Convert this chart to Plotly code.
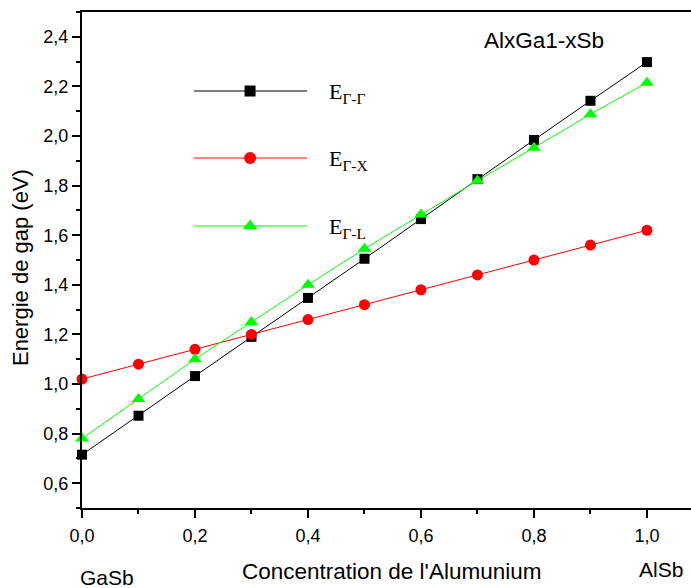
import plotly.graph_objects as go

# ---- data ----
x_al = [0.0, 0.1, 0.2, 0.3, 0.4, 0.5, 0.6, 0.7, 0.8, 0.9, 1.0]
e_gamma_gamma = [0.715, 0.872, 1.032, 1.190, 1.347, 1.505, 1.665, 1.826, 1.984, 2.142, 2.298]
e_gamma_x = [1.02, 1.08, 1.14, 1.20, 1.26, 1.32, 1.38, 1.44, 1.50, 1.56, 1.62]
e_gamma_l = [0.78, 0.94, 1.10, 1.25, 1.40, 1.545, 1.683, 1.82, 1.953, 2.088, 2.215]

series_names = ["E<sub>Γ-Γ</sub>", "E<sub>Γ-X</sub>", "E<sub>Γ-L</sub>"]
series_values = [e_gamma_gamma, e_gamma_x, e_gamma_l]
series_colors = ["#000000", "#FF0000", "#00FF00"]
series_symbols = ["square", "circle", "triangle-up"]
series_msize = [10, 11, 12]

x_title = "Concentration de l'Alumunium"
y_title = "Energie de gap (eV)"
alloy_label = "AlxGa1-xSb"
left_label = "GaSb"
right_label = "AlSb"

FONT = "Liberation Sans, Arial, sans-serif"

fig = go.Figure()
for name, vals, col, sym, ms in zip(series_names, series_values, series_colors, series_symbols, series_msize):
    fig.add_trace(go.Scatter(
        x=x_al, y=vals, mode="lines+markers", name=name,
        line=dict(color=col, width=1),
        marker=dict(symbol=sym, size=ms, color=col),
        cliponaxis=False, showlegend=False,
    ))

# ---- hand-drawn legend on an overlay axis (fractions of the plot area) ----
leg_x = [0.184, 0.3695]
leg_xm = 0.276
leg_y = [0.8407, 0.7056, 0.5685]
for name, col, sym, ms, yy in zip(series_names, series_colors, series_symbols, series_msize, leg_y):
    fig.add_trace(go.Scatter(
        x=leg_x, y=[yy, yy], mode="lines", xaxis="x2", yaxis="y2",
        line=dict(color=col, width=1),
        showlegend=False, hoverinfo="skip", cliponaxis=False,
    ))
    fig.add_trace(go.Scatter(
        x=[leg_xm], y=[yy], mode="markers", xaxis="x2", yaxis="y2",
        marker=dict(symbol=sym, size=ms + 1, color=col),
        showlegend=False, hoverinfo="skip", cliponaxis=False,
    ))
    fig.add_annotation(
        x=0.402, y=yy - 0.004, xref="x2", yref="y2", text=name, showarrow=False,
        xanchor="left", yanchor="middle",
        font=dict(family="Liberation Serif, Times New Roman, serif", size=22, color="black"),
    )

axis_common = dict(
    showline=True, linecolor="black", linewidth=2,
    ticks="outside", ticklen=8, tickwidth=1.5, tickcolor="black",
    showgrid=False, zeroline=False,
    tickfont=dict(family=FONT, size=18, color="black"),
    tickformat=".1f",
)

fig.update_layout(
    width=691, height=588,
    margin=dict(l=82, r=0, t=12, b=80),
    paper_bgcolor="white", plot_bgcolor="white",
    separators=", ",
    xaxis=dict(range=[0, 1.078], dtick=0.2, tick0=0, mirror=True, ticklabelstandoff=2,
               minor=dict(dtick=0.1, ticks="outside", ticklen=4, tickcolor="black", tickwidth=1.5),
               **axis_common),
    yaxis=dict(range=[0.5, 2.5], dtick=0.2, tick0=0.6,
               minor=dict(dtick=0.1, ticks="outside", ticklen=4, tickcolor="black", tickwidth=1.5),
               **axis_common),
    xaxis2=dict(range=[0, 1], overlaying="x", visible=False, fixedrange=True),
    yaxis2=dict(range=[0, 1], overlaying="y", visible=False, fixedrange=True),
    font=dict(family=FONT, color="black"),
)

ann_font = dict(family=FONT, size=21, color="black")
big_font = dict(family=FONT, size=22.5, color="black")
fig.add_annotation(x=0.7586, y=0.9435, xref="paper", yref="paper", text=alloy_label,
                   showarrow=False, xanchor="center", yanchor="middle", font=big_font)
fig.add_annotation(x=0.041, y=-0.141, xref="paper", yref="paper", text=left_label,
                   showarrow=False, xanchor="center", yanchor="middle", font=ann_font)
fig.add_annotation(x=0.951, y=-0.123, xref="paper", yref="paper", text=right_label,
                   showarrow=False, xanchor="center", yanchor="middle", font=ann_font)
fig.add_annotation(x=0.509, y=-0.1275, xref="paper", yref="paper", text=x_title,
                   showarrow=False, xanchor="center", yanchor="middle", font=big_font)
fig.add_annotation(x=-0.100, y=0.484, xref="paper", yref="paper", text=y_title,
                   showarrow=False, xanchor="center", yanchor="middle", textangle=-90,
                   font=dict(family=FONT, size=22, color="black"))

fig.write_html("out.html")
